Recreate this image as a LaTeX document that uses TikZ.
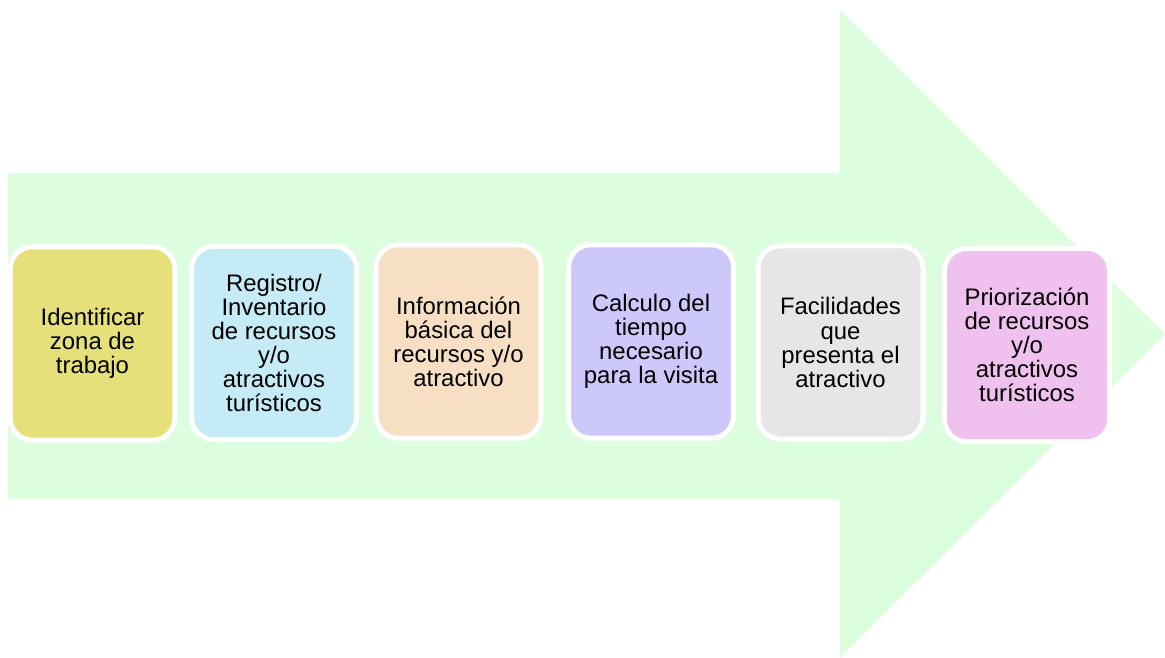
\documentclass[tikz,border=0pt]{standalone}
\usepackage{fontspec}
\setmainfont{Liberation Sans}
\usepackage{tikz}
\usetikzlibrary{calc}
\definecolor{arrowgreen}{RGB}{220,253,222}
\definecolor{boxyellow}{RGB}{230,224,122}
\definecolor{boxblue}{RGB}{197,235,246}
\definecolor{boxpeach}{RGB}{247,223,196}
\definecolor{boxlilac}{RGB}{204,200,250}
\definecolor{boxgray}{RGB}{230,230,230}
\definecolor{boxpink}{RGB}{240,192,238}
\tikzset{
  stepbox/.style={draw=white,line width=0.1cm,rounded corners=0.45cm,
    minimum width=3.3cm,minimum height=3.87cm,align=center,
    font=\fontsize{13.6}{13.7}\selectfont},
  bigarrow/.style={fill=arrowgreen}
}

\begin{document}
\begin{tikzpicture}[x=0.02cm,y=-0.02cm]
    \useasboundingbox (0,0) rectangle (1165,658);
    \fill[bigarrow] (8,173) -- (840,173) -- (840,10) -- (1165,334)
      -- (840,658) -- (840,499) -- (8,499) -- cycle;

    \node[stepbox,fill=boxyellow] (zona) at (92.5,343.5) {Identificar\\zona de\\trabajo};
    \node[stepbox,fill=boxblue] (registro) at (274,343) {Registro/\\Inventario\\de recursos\\y/o\\atractivos\\turísticos};
    \node[stepbox,fill=boxpeach] (info) at (458.5,341.5) {Información\\básica del\\recursos y/o\\atractivo};
    \node[stepbox,fill=boxlilac] (tiempo) at (651,341.5) {Calculo del\\tiempo\\necesario\\para la visita};
    \node[stepbox,fill=boxgray] (facilidades) at (840.5,342.5) {Facilidades\\que\\presenta el\\atractivo};
    \node[stepbox,fill=boxpink] (prioridad) at (1027,345) {Priorización\\de recursos\\y/o\\atractivos\\turísticos};
  \end{tikzpicture}
\end{document}
